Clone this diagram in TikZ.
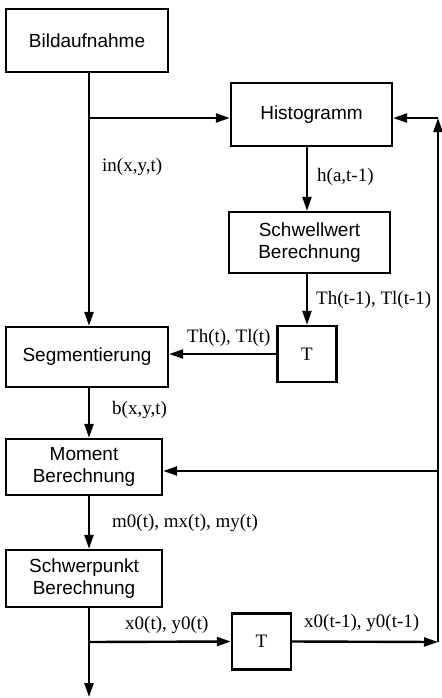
\documentclass[tikz,border=0pt]{standalone}
\usepackage{fontspec}
\setmainfont{Liberation Serif}
\newfontfamily\blockfont{Liberation Sans}
\usetikzlibrary{arrows.meta}
\begin{document}
\begin{tikzpicture}
[x=0.5pt,y=-0.5pt,line width=1.2pt,%
  block/.style={draw,line width=1.2pt,inner sep=2pt,align=center,%
    font=\blockfont\fontsize{9.5}{11}\selectfont},%
  delay/.style={draw,line width=1.2pt,inner sep=0pt,%
    minimum width=29.5pt,minimum height=28pt,font=\fontsize{9.5}{11}\selectfont},%
  arr/.style={-{Triangle[length=7pt,width=4.5pt]}},%
  lab/.style={anchor=west,inner sep=0pt,font=\fontsize{9.5}{11}\selectfont}]
\useasboundingbox (0,0) rectangle (441,698);
% blocks
\node[block,minimum width=81pt,minimum height=31.5pt] (bild) at (87,40.5) {Bildaufnahme};
\node[block,minimum width=80.5pt,minimum height=31.5pt] (histo) at (311.5,114.5) {Histogramm};
\node[block,minimum width=80.5pt,minimum height=30.5pt] (schwell) at (309.5,242.5) {Schwellwert\\Berechnung};
\node[delay] (tone) at (307,354) {T};
\node[block,minimum width=81pt,minimum height=30pt] (segm) at (87,357) {Segmentierung};
\node[block,minimum width=78pt,minimum height=28pt] (moment) at (84,467) {Moment\\Berechnung};
\node[block,minimum width=78pt,minimum height=28.5pt] (schwer) at (84,578.5) {Schwerpunkt\\Berechnung};
\node[delay] (ttwo) at (261.5,641.5) {T};
% helper points
\coordinate (fork) at (89,118);
\coordinate (fork2) at (89,642);
\coordinate (outp) at (89,697);
\coordinate (ret) at (438,642);
\coordinate (rtop) at (438,118);
\coordinate (rmid) at (438,471);
% signals
\node[lab] (lin) at (101,167) {in(x,y,t)};
\node[lab] (lh) at (316,177) {h(a,t-1)};
\node[lab] (lthold) at (315,300) {Th(t-1), Tl(t-1)};
\node[lab] (lth) at (186,338) {Th(t), Tl(t)};
\node[lab] (lb) at (111,410) {b(x,y,t)};
\node[lab] (lm) at (111,523) {m0(t), mx(t), my(t)};
\node[lab] (lxy) at (124,625) {x0(t), y0(t)};
\node[lab] (lxyold) at (303,623) {x0(t-1), y0(t-1)};
% connectors
\draw[arr] (bild.south -| fork) -- (segm.north -| fork);
\draw[arr] (fork) -- (fork -| histo.west);
\draw[arr] (histo.south -| tone.north) -- (schwell.north -| tone.north);
\draw[arr] (schwell.south -| tone.north) -- (tone.north);
\draw[arr] (tone.west) -- (segm.east |- tone.west);
\draw[arr] (segm.south -| fork) -- (moment.north -| fork);
\draw[arr] (moment.south -| fork) -- (schwer.north -| fork);
\draw[arr] (schwer.south -| fork) -- (outp);
\draw[arr] (fork2) -- (ttwo.west);
\draw[arr] (ttwo.east) -- (ret);
\draw[arr] (ret) -- (rtop);
\draw[arr] (rtop) -- (histo.east |- rtop);
\draw[arr] (rmid) -- (moment.east |- rmid);
\end{tikzpicture}
\end{document}
